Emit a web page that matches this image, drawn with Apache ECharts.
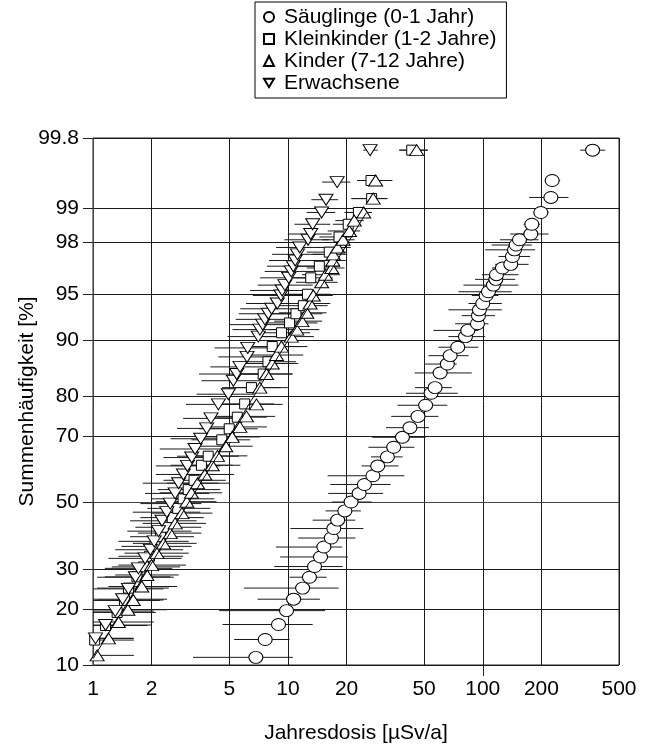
<!DOCTYPE html>
<html>
<head>
<meta charset="utf-8">
<script src="https://cdn.jsdelivr.net/npm/echarts@6/dist/echarts.min.js"></script>
<style>html,body{margin:0;padding:0;background:#fff;}#c{width:645px;height:751px;}</style>
</head>
<body>
<div id="c"></div>
<script>
// ---------- data (dose in µSv/a, cumulative frequency in %) ----------
const xTicks = [1, 2, 5, 10, 20, 50, 100, 200, 500];
const xLongTicks = [100];
const yTicks = [10, 20, 30, 50, 70, 80, 90, 95, 98, 99, 99.8];
const seriesNames = ['Säuglinge (0-1 Jahr)', 'Kleinkinder (1-2 Jahre)', 'Kinder (7-12 Jahre)', 'Erwachsene'];

const saeuglingeDose = [6.85,7.65,8.95,9.84,10.7,11.9,12.9,13.7,14.7,15.3,16.7,17.2,18.0,19.6,21.1,23.2,24.7,27.3,28.9,32.4,34.9,38.7,42.3,46.5,50.9,54.3,56.9,60.4,65.8,68.0,74.4,81.5,83.8,93.9,95.0,96.1,100,104,106.9,113.4,116.7,117.6,126.2,139.2,142,145.4,148.4,154.3,176.4,178.5,198.6,223.6,227,366];
const saeuglingeP = [11.1,14.0,16.8,19.7,22.3,25.0,27.8,30.7,33.4,36.3,39.0,41.9,44.5,47.4,50.2,52.9,55.7,58.4,61.4,64.1,66.9,69.7,72.3,75.2,77.9,80.6,81.8,84.7,86.3,87.7,89.0,90.5,91.3,92.1,93.0,93.6,94.2,94.9,95.2,95.7,96.1,96.4,96.8,97.0,97.4,97.7,97.9,98.1,98.3,98.6,98.9,99.2,99.45,99.73];
const saeuglingeLo = [3.26,5.30,4.62,4.44,6.99,5.94,10.2,8.51,9.13,8.67,11.3,10.3,13.4,15.6,16.8,16.1,16.5,16.0,23.9,26.7,25.9,27.1,31.9,33.9,36.5,40.4,44.9,44.7,50.6,52.6,59.2,66.6,55.8,72.1,78.0,66.6,84.4,87.8,75.0,79.6,91.3,98.8,111.2,115.7,120.3,102.8,111.2,122.7,138.2,161.8,182.1,173,209,316];
const saeuglingeHi = [10.6,10.2,13.4,15.5,14.6,18.2,15.8,19.1,20.3,19.0,22.2,24.4,22.2,23.7,26.9,30.8,33.7,39.6,36.9,38.8,44.6,50.9,53.0,59.2,65.8,74.4,69.3,87.8,73.5,84.4,95.0,102.8,95.0,106.9,115.7,125.2,125.2,120.3,140.9,152.5,146.6,152.5,146.6,171.7,175.1,185.7,178.5,193.2,217.4,197,217.4,275.4,249.5,425];

const kleinkinderDose = [1.02,1.16,1.33,1.45,1.52,1.68,1.82,1.95,2.08,2.22,2.38,2.55,2.72,2.90,3.08,3.30,3.60,3.90,4.58,5.00,5.50,6.00,6.50,7.47,7.90,8.31,9.28,10.2,11.0,12.0,12.6,13.1,14.5,16.3,18.3,20.4,23.0,26.9,26.7,43.2];
const kleinkinderP = [13.9,16.6,19.3,22.0,25.0,27.9,30.6,33.6,36.5,39.4,42.3,45.3,48.2,51.2,54.1,57.0,61.6,64.3,69.0,72.0,75.0,78.2,81.8,84.5,86.7,89.1,91.0,92.2,93.2,94.0,95.0,96.2,96.9,97.6,98.2,98.6,98.9,99.18,99.45,99.73];
const kleinkinderLo = [0.80,0.85,0.95,1.00,1.05,1.15,1.25,1.35,1.40,1.55,1.65,1.75,1.90,2.00,2.15,2.30,2.50,2.70,3.20,3.50,3.80,4.20,4.60,5.20,5.60,5.90,6.60,7.20,7.80,8.50,9.00,9.60,10.8,12.5,14.5,17.0,19.5,21.2,22.7,37.3];
const kleinkinderHi = [1.62,1.90,2.10,2.20,2.45,2.50,2.80,2.90,3.20,3.30,3.60,3.70,4.00,4.20,4.50,4.80,5.20,5.60,6.40,7.00,7.80,8.50,9.20,10.5,11.0,11.8,13.0,14.2,15.0,16.0,16.5,17.0,18.5,20.0,21.5,23.5,26.0,32.4,34.3,52.2];

const kinderDose = [1.05,1.20,1.35,1.51,1.61,1.78,1.89,2.00,2.13,2.30,2.49,2.64,2.86,3.03,3.20,3.44,3.75,4.09,4.35,4.80,5.18,5.67,6.13,6.90,7.18,7.77,8.31,8.74,9.27,10.4,11.1,11.8,12.5,13.0,13.5,14.9,15.6,16.8,17.0,17.1,18.0,19.2,20.7,21.9,24.5,27.4,28.2,45.8];
const kinderP = [11.4,14.2,17.3,19.9,22.1,25.4,28.4,31.1,34.5,37.4,40.5,43.5,46.7,50.3,53.1,56.1,58.8,61.6,64.4,67.2,69.8,72.5,75.2,78.1,81.8,84.5,86.4,87.8,89.1,90.5,91.4,92.4,93.3,94.2,94.9,95.9,96.4,96.8,97.2,97.5,97.8,98.1,98.4,98.7,98.9,99.18,99.45,99.73];
const kinderLo = [0.80,0.85,0.90,1.00,1.05,1.20,1.30,1.35,1.45,1.60,1.70,1.80,2.00,2.10,2.20,2.40,2.60,2.90,3.00,3.40,3.60,4.00,4.30,4.80,5.20,5.50,6.00,6.20,6.60,7.50,8.00,8.50,9.00,9.50,10.0,11.0,11.8,12.5,13.0,13.4,14.0,15.0,16.0,17.5,20.0,21.2,22.7,37.3];
const kinderHi = [1.62,1.62,2.05,2.40,2.30,2.70,2.75,3.00,3.10,3.40,3.60,3.80,4.10,4.30,4.60,5.00,5.30,5.70,6.20,6.60,7.20,7.80,8.60,9.40,10.0,10.6,11.3,12.0,12.6,13.6,14.5,15.0,15.8,16.5,17.0,18.0,18.5,19.5,19.8,20.2,21.0,22.0,23.5,24.5,27.0,32.4,34.3,52.2];

const erwachseneDose = [1.03,1.16,1.30,1.42,1.52,1.65,1.71,1.85,1.97,2.06,2.17,2.26,2.39,2.49,2.64,2.75,2.91,3.05,3.21,3.34,3.57,3.83,4.03,4.40,4.95,5.25,5.46,5.68,6.17,6.22,7.05,7.19,7.42,7.62,7.93,8.25,8.82,9.21,9.35,9.65,10.1,10.4,10.65,10.9,11.2,11.5,12.7,13.1,13.4,14.9,15.7,17.9,26.4];
const erwachseneP = [14.2,16.7,19.6,22.3,24.8,27.8,30.2,33.0,35.5,38.0,41.1,44.3,47.0,49.7,52.9,56.1,58.8,61.4,63.9,66.4,69.3,72.1,74.7,78.1,80.4,83.2,84.5,85.8,87.5,88.9,90.5,91.4,92.0,92.6,93.2,93.7,94.2,94.9,95.3,95.7,96.2,96.6,96.9,97.2,97.5,97.8,98.1,98.3,98.6,98.9,99.16,99.43,99.73];
const erwachseneLo = [0.80,0.85,0.90,0.95,1.00,1.05,1.15,1.20,1.30,1.35,1.50,1.55,1.60,1.75,1.85,1.80,2.10,2.10,2.30,2.20,2.50,2.70,2.90,3.00,3.40,3.60,3.50,4.00,4.40,4.20,4.90,5.20,5.00,5.40,5.60,5.70,6.10,6.60,6.40,7.00,7.20,7.60,7.80,8.00,8.30,8.70,9.60,10.0,10.8,12.5,13.2,15.0,24.4];
const erwachseneHi = [1.60,2.00,2.05,2.40,2.30,2.60,2.55,2.85,2.90,3.10,3.20,3.40,3.55,3.60,3.95,4.40,4.20,4.50,4.60,4.90,5.10,5.60,5.80,6.30,6.70,7.40,7.90,8.00,8.50,9.00,10.0,9.80,10.3,10.8,11.2,11.5,12.0,12.5,13.0,13.4,13.8,14.0,14.5,14.8,15.0,15.5,16.2,16.8,16.5,17.5,18.1,20.9,28.9];

// fitted line through the children / adult cluster
const fitDose = [1.0, 25.3];
const fitP = [10.9, 98.9];

// ---------- probability (normal quantile) transform for the y scale ----------
function probit(p) {
  const a=[-3.969683028665376e+01,2.209460984245205e+02,-2.759285104469687e+02,1.383577518672690e+02,-3.066479806614716e+01,2.506628277459239e+00];
  const b=[-5.447609879822406e+01,1.615858368580409e+02,-1.556989798598866e+02,6.680131188771972e+01,-1.328068155288572e+01];
  const c=[-7.784894002430293e-03,-3.223964580411365e-01,-2.400758277161838e+00,-2.549732539343734e+00,4.374664141464968e+00,2.938163982698783e+00];
  const d=[7.784695709041462e-03,3.224671290700398e-01,2.445134137142996e+00,3.754408661907416e+00];
  const pl=0.02425, ph=1-pl; let q, r;
  if (p < pl) { q=Math.sqrt(-2*Math.log(p)); return (((((c[0]*q+c[1])*q+c[2])*q+c[3])*q+c[4])*q+c[5])/((((d[0]*q+d[1])*q+d[2])*q+d[3])*q+1); }
  if (p <= ph) { q=p-0.5; r=q*q; return (((((a[0]*r+a[1])*r+a[2])*r+a[3])*r+a[4])*r+a[5])*q/(((((b[0]*r+b[1])*r+b[2])*r+b[3])*r+b[4])*r+1); }
  q=Math.sqrt(-2*Math.log(1-p)); return -(((((c[0]*q+c[1])*q+c[2])*q+c[3])*q+c[4])*q+c[5])/((((d[0]*q+d[1])*q+d[2])*q+d[3])*q+1);
}
const pz = v => probit(v / 100);
const yTickZ = yTicks.map(pz);
const yMin = yTickZ[0], yMax = yTickZ[yTickZ.length - 1];

const FONT = 'Liberation Sans';
const FS = 21;
const groups = [
  {name: seriesNames[0], dose: saeuglingeDose, p: saeuglingeP, lo: saeuglingeLo, hi: saeuglingeHi, symbol: 'circle', size: [14, 12], rot: 0},
  {name: seriesNames[1], dose: kleinkinderDose, p: kleinkinderP, lo: kleinkinderLo, hi: kleinkinderHi, symbol: 'rect', size: [10, 10], rot: 0},
  {name: seriesNames[2], dose: kinderDose, p: kinderP, lo: kinderLo, hi: kinderHi, symbol: 'triangle', size: [14, 11], rot: 0},
  {name: seriesNames[3], dose: erwachseneDose, p: erwachseneP, lo: erwachseneLo, hi: erwachseneHi, symbol: 'triangle', size: [14, 11], rot: 180}
];

const series = [];
groups.forEach((g, gi) => {
  series.push({
    name: 'bars' + gi, type: 'custom', z: 1, clip: true, silent: true,
    encode: {x: [0, 1], y: 2},
    data: g.dose.map((v, i) => [g.lo[i], g.hi[i], pz(g.p[i])]),
    renderItem: function (params, api) {
      const a = api.coord([api.value(0), api.value(2)]);
      const b = api.coord([api.value(1), api.value(2)]);
      return {type: 'line', shape: {x1: a[0], y1: a[1], x2: b[0], y2: b[1]}, style: {stroke: '#1a1a1a', lineWidth: 1}};
    }
  });
});
groups.forEach((g) => {
  series.push({
    name: g.name, type: 'scatter', z: 2, clip: false, silent: true,
    symbol: g.symbol, symbolSize: g.size, symbolRotate: g.rot,
    itemStyle: {color: '#fff', borderColor: '#000', borderWidth: 1, opacity: 1},
    data: g.dose.map((v, i) => [v, pz(g.p[i])])
  });
});
series.push({
  name: 'fit', type: 'line', z: 3, silent: true, symbol: 'none',
  lineStyle: {color: '#000', width: 1},
  data: fitDose.map((v, i) => [v, pz(fitP[i])])
});

const chart = echarts.init(document.getElementById('c'), null, {renderer: 'canvas'});
chart.setOption({
  animation: false,
  backgroundColor: '#fff',
  textStyle: {fontFamily: FONT},
  legend: {
    orient: 'vertical', left: 255, top: 2,
    padding: [4, 10, 4, 8], itemGap: 0, itemWidth: 10, itemHeight: 10,
    borderColor: '#000', borderWidth: 1, selectedMode: false,
    textStyle: {fontFamily: FONT, fontSize: FS, color: '#000', lineHeight: 22, padding: [0, 0, 0, 5]},
    data: [
      {name: seriesNames[0], icon: 'circle'},
      {name: seriesNames[1], icon: 'rect'},
      {name: seriesNames[2], icon: 'triangle'},
      {name: seriesNames[3], icon: 'path://M0,0L12,0L6,10Z'}
    ]
  },
  grid: {left: 93, right: 26, top: 138, bottom: 86, show: true, borderColor: '#222', borderWidth: 1, backgroundColor: 'transparent'},
  xAxis: [{
    type: 'log', logBase: 10, min: 1, max: 500, position: 'bottom',
    name: 'Jahresdosis [µSv/a]', nameLocation: 'middle', nameGap: 58, nameMoveOverlap: false,
    nameTextStyle: {fontFamily: FONT, fontSize: FS, color: '#000'},
    axisLine: {show: true, lineStyle: {color: '#444', width: 1}},
    axisTick: {show: true, customValues: xTicks, length: 5, lineStyle: {color: '#222'}},
    axisLabel: {customValues: xTicks, fontFamily: FONT, fontSize: FS, color: '#000', margin: 14},
    minorTick: {show: false}, minorSplitLine: {show: false},
    splitLine: {show: true, lineStyle: {color: '#1a1a1a', width: 1}}
  }, {
    type: 'log', logBase: 10, min: 1, max: 500, position: 'bottom', offset: 0,
    axisLine: {show: false},
    axisTick: {show: true, customValues: xLongTicks, length: 11, lineStyle: {color: '#222'}},
    axisLabel: {show: false},
    splitLine: {show: false}, minorTick: {show: false}
  }],
  yAxis: {
    type: 'value', min: yMin, max: yMax,
    name: 'Summenhäufigkeit [%]', nameLocation: 'middle', nameGap: 55, nameRotate: 90, nameMoveOverlap: false,
    nameTextStyle: {fontFamily: FONT, fontSize: FS, color: '#000'},
    axisLine: {show: true, lineStyle: {color: '#444', width: 1}},
    axisTick: {show: true, customValues: yTickZ, length: 10, lineStyle: {color: '#222'}},
    axisLabel: {
      customValues: yTickZ, fontFamily: FONT, fontSize: FS, color: '#000', margin: 14,
      formatter: function (v) {
        let best = 0;
        yTickZ.forEach((z, i) => { if (Math.abs(z - v) < Math.abs(yTickZ[best] - v)) best = i; });
        return String(yTicks[best]);
      }
    },
    splitLine: {show: true, lineStyle: {color: '#1a1a1a', width: 1}}
  },
  series: series
});
</script>
</body>
</html>
